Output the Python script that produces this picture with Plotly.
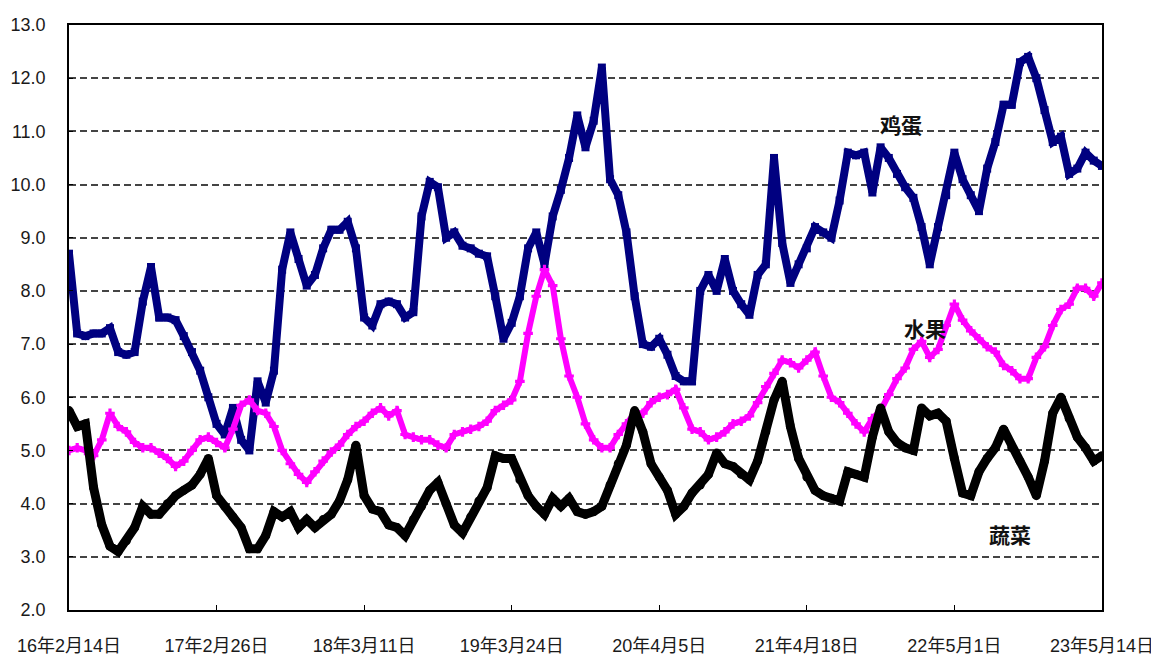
import pandas as pd
import plotly.graph_objects as go

# ---- data (3-week spacing) ----
dates = pd.date_range("2016-02-14", periods=127, freq="21D")

egg = [8.7, 7.2, 7.15, 7.2, 7.2, 7.3, 6.85, 6.8, 6.85, 7.8,
       8.45, 7.5, 7.5, 7.45, 7.15, 6.85, 6.5, 6.0, 5.5, 5.3,
       5.8, 5.2, 5.0, 6.3, 5.9, 6.5, 8.4, 9.1, 8.6, 8.1,
       8.3, 8.8, 9.15, 9.15, 9.3, 8.8, 7.5, 7.35, 7.75, 7.8,
       7.75, 7.5, 7.6, 9.4, 10.05, 9.95, 9.0, 9.1, 8.85, 8.8,
       8.7, 8.65, 7.9, 7.1, 7.4, 7.9, 8.8, 9.1, 8.5, 9.4,
       9.9, 10.5, 11.3, 10.7, 11.2, 12.2, 10.1, 9.8, 9.1, 7.9,
       7.0, 6.95, 7.1, 6.8, 6.4, 6.3, 6.3, 8.0, 8.3, 8.0,
       8.6, 8.0, 7.75, 7.55, 8.3, 8.5, 10.5, 8.9, 8.15, 8.5,
       8.8, 9.2, 9.1, 9.0, 9.7, 10.6, 10.55, 10.6, 9.85, 10.7,
       10.5, 10.2, 9.95, 9.75, 9.2, 8.5, 9.2, 9.8, 10.6, 10.1,
       9.8, 9.5, 10.3, 10.8, 11.5, 11.5, 12.3, 12.4, 12.0, 11.4,
       10.8, 10.9, 10.2, 10.3, 10.6, 10.45, 10.35]

fruit = [5.0, 5.05, 5.0, 4.9, 5.2, 5.7, 5.45, 5.35, 5.15, 5.05,
         5.05, 4.95, 4.85, 4.7, 4.8, 5.0, 5.2, 5.25, 5.15, 5.05,
         5.4, 5.85, 5.95, 5.75, 5.7, 5.45, 5.0, 4.75, 4.55, 4.4,
         4.6, 4.8, 4.97, 5.1, 5.3, 5.45, 5.55, 5.7, 5.8, 5.65,
         5.75, 5.3, 5.25, 5.2, 5.2, 5.1, 5.05, 5.3, 5.35, 5.4,
         5.45, 5.55, 5.75, 5.85, 5.95, 6.3, 7.2, 7.9, 8.4, 8.1,
         7.1, 6.4, 6.0, 5.5, 5.2, 5.05, 5.05, 5.3, 5.5, 5.7,
         5.7, 5.9, 6.0, 6.05, 6.15, 5.8, 5.4, 5.35, 5.2, 5.25,
         5.35, 5.5, 5.55, 5.65, 5.9, 6.2, 6.45, 6.7, 6.65, 6.55,
         6.7, 6.85, 6.4, 6.0, 5.9, 5.7, 5.5, 5.35, 5.6, 5.75,
         6.05, 6.35, 6.55, 6.9, 7.05, 6.75, 6.9, 7.35, 7.75, 7.45,
         7.25, 7.1, 6.95, 6.85, 6.6, 6.5, 6.35, 6.35, 6.75, 6.95,
         7.35, 7.65, 7.75, 8.05, 8.05, 7.9, 8.15]

veg = [5.75, 5.45, 5.5, 4.3, 3.6, 3.2, 3.1, 3.3, 3.55, 3.95,
       3.8, 3.8, 4.0, 4.15, 4.25, 4.35, 4.55, 4.85, 4.15, 3.95,
       3.75, 3.55, 3.15, 3.15, 3.4, 3.85, 3.75, 3.85, 3.55, 3.7,
       3.55, 3.7, 3.8, 4.05, 4.45, 5.1, 4.15, 3.9, 3.85, 3.6,
       3.55, 3.4, 3.7, 3.95, 4.25, 4.4, 4.0, 3.6, 3.45, 3.75,
       4.05, 4.3, 4.9, 4.85, 4.85, 4.45, 4.15, 3.95, 3.8, 4.1,
       3.95, 4.1, 3.85, 3.8, 3.85, 3.95, 4.35, 4.75, 5.1, 5.75,
       5.35, 4.75, 4.5, 4.25, 3.8, 3.95, 4.2, 4.35, 4.55, 4.95,
       4.75, 4.7, 4.55, 4.45, 4.8, 5.35, 5.95, 6.3, 5.45, 4.85,
       4.5, 4.25, 4.15, 4.1, 4.05, 4.6, 4.55, 4.5, 5.25, 5.8,
       5.35, 5.15, 5.05, 5.0, 5.8, 5.65, 5.7, 5.55, 4.85, 4.2,
       4.15, 4.6, 4.85, 5.05, 5.4, 5.05, 4.8, 4.5, 4.15, 4.8,
       5.7, 6.0, 5.6, 5.25, 5.05, 4.8, 4.9]

tick_dates = ["2016-02-14", "2017-02-26", "2018-03-11", "2019-03-24",
              "2020-04-05", "2021-04-18", "2022-05-01", "2023-05-14"]
tick_labels = ["16年2月14日", "17年2月26日", "18年3月11日", "19年3月24日",
               "20年4月5日", "21年4月18日", "22年5月1日", "23年5月14日"]

series_names = ["鸡蛋", "水果", "蔬菜"]

# ---- figure ----
FONT = "Liberation Sans, Noto Sans CJK SC, sans-serif"

fig = go.Figure()
fig.add_trace(go.Scatter(x=dates, y=egg, name=series_names[0], mode="lines+markers",
                         line=dict(color="#000080", width=8),
                         marker=dict(symbol="square", size=8, color="#000080"),
                         hoverinfo="skip"))
fig.add_trace(go.Scatter(x=dates, y=fruit, name=series_names[1], mode="lines+markers",
                         line=dict(color="#FF00FF", width=6),
                         marker=dict(symbol="cross", size=8, color="#FF00FF"),
                         hoverinfo="skip"))
fig.add_trace(go.Scatter(x=dates, y=veg, name=series_names[2], mode="lines+markers",
                         line=dict(color="#000000", width=9),
                         marker=dict(symbol="circle", size=9, color="#000000"),
                         hoverinfo="skip"))

label_pos = [(0.805, 0.831), (0.829, 0.482), (0.911, 0.130)]
for name, (px, py) in zip(series_names, label_pos):
    fig.add_annotation(x=px, y=py, xref="paper", yref="paper", text=name,
                       showarrow=False, xanchor="center", yanchor="middle",
                       font=dict(family="Noto Sans CJK SC", size=21, color="#111111", weight=700))

# the page body adds an 8px offset, so the figure is sized to fit inside the window
fig.update_layout(
    width=1151, height=652,
    margin=dict(l=61, r=57, t=17, b=50, autoexpand=False),
    paper_bgcolor="white", plot_bgcolor="white",
    showlegend=False,
    font=dict(family=FONT, color="#1a1a1a", size=18),
)
fig.update_xaxes(
    type="date",
    range=["2016-02-14", "2023-05-14 04:00"],
    tickvals=tick_dates, ticktext=tick_labels,
    ticks="inside", ticklen=5, tickwidth=1.2, tickcolor="black",
    showline=True, linecolor="black", linewidth=1.6, mirror=True,
    showgrid=False, zeroline=False, automargin=False,
    ticklabelstandoff=19,
    tickfont=dict(family=FONT, size=18, color="#1a1a1a"),
)
fig.update_yaxes(
    range=[2, 13], dtick=1, tick0=2, tickformat=".1f",
    ticks="inside", ticklen=4, tickwidth=1.2, tickcolor="black",
    showline=True, linecolor="black", linewidth=1.6, mirror=True,
    showgrid=True, gridcolor="#444444", gridwidth=1.5, griddash="7px,4px",
    zeroline=False, automargin=False,
    ticklabelstandoff=18,
    tickfont=dict(family=FONT, size=18, color="#1a1a1a"),
)

fig.write_html("out.html")
